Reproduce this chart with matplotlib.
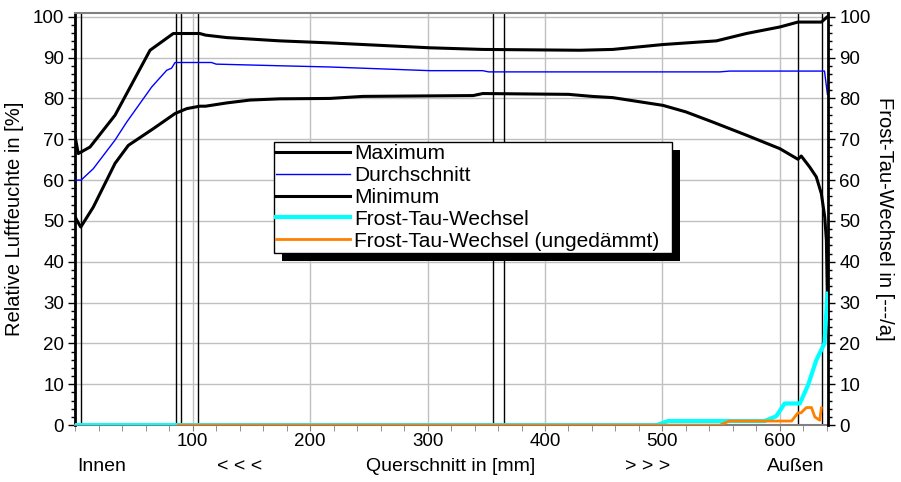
#!/usr/bin/env python3
# Feuchte-/Frost-Tau-Verlauf im Querschnitt -> out.png
import matplotlib
matplotlib.use("Agg")
import matplotlib.pyplot as plt
from matplotlib.patches import Rectangle
from matplotlib.ticker import MultipleLocator
import matplotlib.transforms as mtrans

plt.rcParams["font.family"] = ["Liberation Sans", "DejaVu Sans"]
plt.rcParams["font.size"] = 13.5

# --- data ---
x_max = [0, 2.6, 12.6, 33.9, 63.7, 83.5, 106, 111, 129, 174, 216.8, 302, 347,
         429.6, 457.7, 500.5, 546, 571.5, 600, 615.4, 635.3, 640.5]
y_max = [70.5, 66.5, 68.1, 75.9, 91.8, 95.9, 95.9, 95.5, 94.9, 94.1, 93.6, 92.4, 92.0,
         91.8, 92.0, 93.2, 94.1, 95.9, 97.5, 98.7, 98.7, 100.0]

x_avg = [0, 5, 15.4, 33.9, 43.8, 65.1, 77.9, 82, 85, 116, 120, 174, 216.8, 302,
         347, 352, 548.8, 557.3, 638, 640.5]
y_avg = [60.0, 60.0, 62.8, 69.8, 74.2, 82.8, 86.9, 87.4, 88.8, 88.8, 88.4, 88.0, 87.7, 86.8,
         86.8, 86.5, 86.5, 86.7, 86.7, 81.0]

x_min = [0, 1.3, 4.7, 15.4, 33.9, 45.2, 66.5, 85, 94.9, 106, 111, 129, 148.8, 174,
         216.8, 245, 338.8, 347, 420, 440, 457.7, 500.5, 520, 543, 571.5, 600,
         615.4, 618.2, 625.4, 631, 635.3, 638.2, 639.6, 640.5]
y_min = [51.0, 50.2, 48.5, 53.4, 64.1, 68.5, 72.6, 76.3, 77.5, 78.1, 78.1, 78.9, 79.6, 79.9,
         80.0, 80.5, 80.7, 81.2, 81.0, 80.5, 80.2, 78.3, 76.7, 74.2, 71.0, 67.7,
         65.1, 65.9, 63.2, 60.8, 56.7, 51.0, 45.3, 30.5]

x_ftw = [0, 495, 504.8, 587, 597, 604, 617, 624, 631, 638, 640.5]
y_ftw = [0, 0, 1.0, 1.0, 2.2, 5.3, 5.3, 9.8, 15.9, 20.0, 32.2]

x_ftw_u = [88, 548.8, 557, 610, 615.4, 618, 622.6, 626.9, 629.8, 634, 635.3]
y_ftw_u = [0, 0, 1.0, 1.0, 3.0, 3.0, 4.3, 4.3, 2.0, 1.2, 4.2]

# Schichtgrenzen
layers = [5, 85.5, 90, 104.5, 356, 365, 615.5, 635.5]

bottom_labels = [(22.6, "Innen"), (140, "< < <"), (320, "Querschnitt in [mm]"),
                 (487.5, "> > >"), (613.4, "Außen")]

# --- draw ---
fig = plt.figure(figsize=(9.01, 4.82), dpi=100)
ax = fig.add_axes([0.0835, 0.118, 0.8355, 0.8557])
ax2 = ax.twinx()

for a in (ax, ax2):
    a.set_xlim(0, 641)
    a.set_ylim(0, 101)
    a.yaxis.set_major_locator(MultipleLocator(10))
    a.yaxis.set_minor_locator(MultipleLocator(2))
    a.tick_params(axis="y", which="major", length=5, width=1, pad=3, labelsize=13.5)
    a.tick_params(axis="y", which="minor", length=3, width=1)

ax.set_xticks([100, 200, 300, 400, 500, 600])
ax.xaxis.set_minor_locator(MultipleLocator(20))
ax.tick_params(axis="x", which="major", length=4, color="#808080", pad=2, labelsize=13.5)
ax.tick_params(axis="x", which="minor", length=4, color="#808080")

ax.grid(True, which="major", color="#c0c0c0", linewidth=1)
ax.set_axisbelow(True)

for xl in layers:
    ax.axvline(xl, color="black", linewidth=1, zorder=2)

l1, = ax.plot(x_max, y_max, color="black", linewidth=2.2, label="Maximum", zorder=3)
l2, = ax.plot(x_avg, y_avg, color="#0000ff", linewidth=1, label="Durchschnitt", zorder=3)
l3, = ax.plot(x_min, y_min, color="black", linewidth=2.2, label="Minimum", zorder=3)
l4, = ax2.plot(x_ftw, y_ftw, color="#00ffff", linewidth=3, label="Frost-Tau-Wechsel", zorder=3)
l5, = ax2.plot(x_ftw_u, y_ftw_u, color="#ff8000", linewidth=2,
               label="Frost-Tau-Wechsel (ungedämmt)", zorder=3)

for s in ("top", "bottom"):
    ax.spines[s].set_color("#808080")
    ax.spines[s].set_linewidth(1.5)
    ax2.spines[s].set_visible(False)
ax2.spines["left"].set_visible(False)
ax.spines["right"].set_visible(False)
ax.spines["left"].set_linewidth(2)
ax2.spines["right"].set_linewidth(2)

ax.set_ylabel("Relative Luftfeuchte in [%]", fontsize=14.5, labelpad=6)
ax2.set_ylabel("Frost-Tau-Wechsel in [---/a]", fontsize=14.5, rotation=270, labelpad=17)

trans = mtrans.blended_transform_factory(ax.transData, ax.transAxes)
for xm, txt in bottom_labels:
    ax.text(xm, -0.1, txt, transform=trans, ha="center", va="center", fontsize=14)

# Legendenrahmen: 273..672 px breit, Oberkante bei 141.5 px
leg_box = (273.5 / 901, 1 - 255.5 / 482, 398.5 / 901, 114 / 482)
leg = ax2.legend(handles=[l1, l2, l3, l4, l5], loc="upper left", mode="expand",
                 bbox_to_anchor=leg_box, bbox_transform=fig.transFigure,
                 fancybox=False, framealpha=1, edgecolor="black", borderaxespad=0,
                 handlelength=3.55, handletextpad=0.2, borderpad=0.12, labelspacing=0.14,
                 fontsize=15)
leg.get_frame().set_linewidth(1)

# Schatten unter der Legende
fig.canvas.draw()
bb = leg.get_window_extent().transformed(fig.transFigure.inverted())
dx, dy = 8 / 901, 8 / 482
shadow = Rectangle((bb.x0 + dx, bb.y0 - dy), bb.width, bb.height, transform=fig.transFigure,
                   facecolor="black", edgecolor="none", zorder=4.5, clip_on=False)
ax2.add_artist(shadow)

fig.savefig("out.png", dpi=100)
